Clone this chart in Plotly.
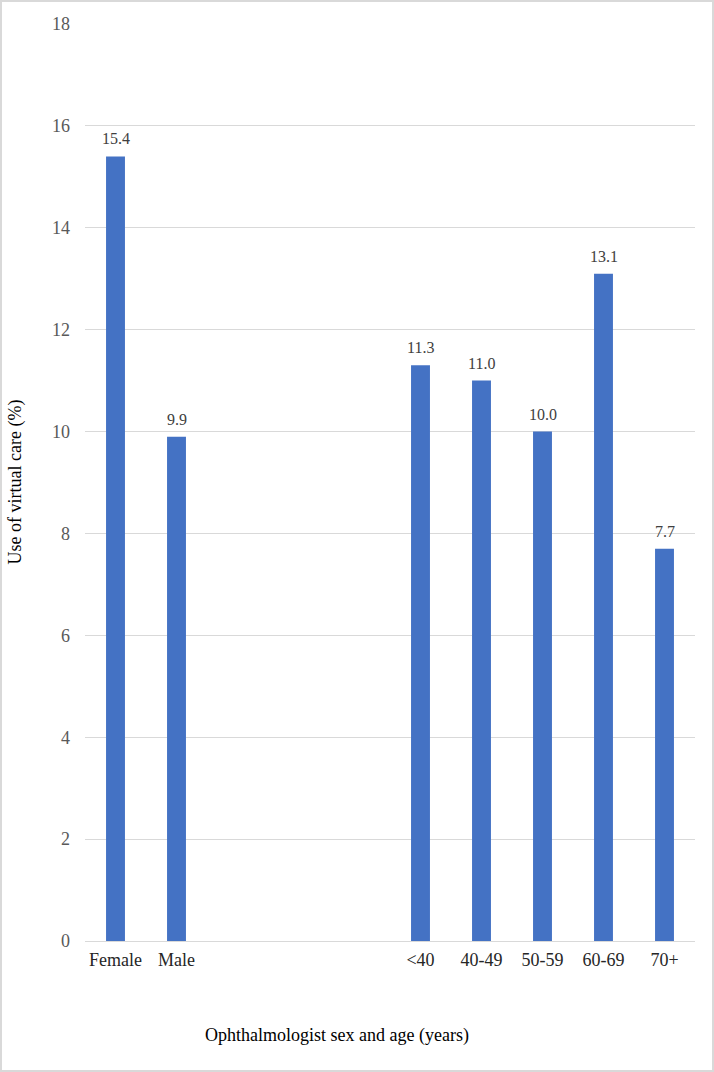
import plotly.graph_objects as go

# categories, with three empty slots between sex and age groups
categories = ["Female", "Male", " ", "  ", "   ", "<40", "40-49", "50-59", "60-69", "70+"]
use_pct = [15.4, 9.9, None, None, None, 11.3, 11.0, 10.0, 13.1, 7.7]
y_ticks = [0, 2, 4, 6, 8, 10, 12, 14, 16, 18]

W, H = 714, 1072
ML, MR, MT, MB = 85, 19, 24, 131
PW, PH = W - ML - MR, H - MT - MB

FONT = "Liberation Serif, Times New Roman, serif"

fig = go.Figure()
fig.add_trace(go.Bar(
    x=categories, y=use_pct,
    marker=dict(color="#4472C4", line=dict(width=0)),
    hoverinfo="skip",
))

# value labels sit a little above each bar
for cat, val in zip(categories, use_pct):
    if val is None:
        continue
    fig.add_annotation(
        x=cat, y=val, text=f"{val:.1f}", showarrow=False,
        xanchor="center", yanchor="bottom", yshift=7,
        font=dict(family=FONT, size=16, color="#404040"),
    )

fig.update_layout(
    width=W, height=H,
    margin=dict(l=ML, r=MR, t=MT, b=MB),
    paper_bgcolor="white", plot_bgcolor="white",
    bargap=0.69, showlegend=False,
    font=dict(family=FONT),
)
fig.update_xaxes(
    type="category", showgrid=False, showline=False, zeroline=False,
    ticks="", ticklabelstandoff=6,
    tickfont=dict(family=FONT, size=18, color="#262626"),
)
fig.update_yaxes(
    range=[0, 18], tickvals=y_ticks, showgrid=True, gridcolor="#d9d9d9", gridwidth=1,
    zeroline=True, zerolinecolor="#d9d9d9", zerolinewidth=1, showline=False,
    ticks="", ticklabelstandoff=14,
    tickfont=dict(family=FONT, size=18, color="#595959"),
)

fig.add_annotation(
    text="Ophthalmologist sex and age (years)", showarrow=False,
    xref="paper", yref="paper", x=(337 - ML) / PW, y=(H - MB - 1035) / PH,
    xanchor="center", yanchor="middle",
    font=dict(family=FONT, size=18, color="black"),
)
fig.add_annotation(
    text="Use of virtual care (%)", showarrow=False, textangle=-90,
    xref="paper", yref="paper", x=(15 - ML) / PW, y=0.5,
    xanchor="center", yanchor="middle",
    font=dict(family=FONT, size=18, color="black"),
)

# light border around the chart area
fig.add_shape(
    type="rect", xref="paper", yref="paper",
    x0=(1 - ML) / PW, x1=(W - 1 - ML) / PW,
    y0=(H - MB - (H - 1)) / PH, y1=(H - MB - 1) / PH,
    line=dict(color="#d9d9d9", width=2), fillcolor="rgba(0,0,0,0)", layer="below",
)

# remove the browser's default page margin so the figure fills the window
fig.write_html("out.html", config={"displayModeBar": False},
               post_script="document.body.style.margin='0';")
